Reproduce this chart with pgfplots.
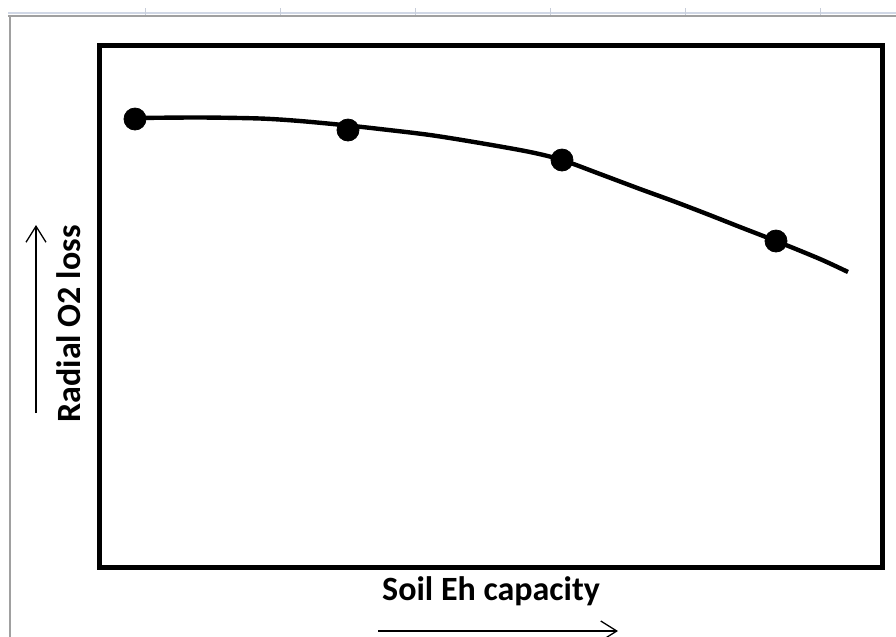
\documentclass[border=0pt]{standalone}
\usepackage{pgfplots}
\pgfplotsset{compat=1.18}
\usepackage{fontspec}
\setmainfont{Carlito}
\usetikzlibrary{arrows.meta}
\begin{document}
\begin{tikzpicture}[x=0.5pt,y=-0.5pt]
\path[use as bounding box] (0,0) rectangle (896,637);
% spreadsheet background lines
\draw[line width=0.6pt, color={rgb,255:red,208;green,215;blue,229}] (8,13) -- (896,13);
\foreach \xx in {145,280,415,550,685,820}
  \draw[line width=0.5pt, color={rgb,255:red,200;green,206;blue,218}] (\xx,8) -- (\xx,16);
\draw[line width=1pt, color={rgb,255:red,160;green,160;blue,160}] (8,16) -- (896,16);
\draw[line width=1pt, color={rgb,255:red,160;green,160;blue,160}] (10,16) -- (10,637);
\begin{axis}[
  at={(491,306.5)}, anchor=center,
  scale only axis, width=391.5pt, height=261pt,
  xmin=99.5, xmax=882.5, ymin=45.5, ymax=567.5, y dir=reverse,
  xtick=\empty, ytick=\empty,
  axis line style={line width=2.5pt, black},
  clip=false,
]
\addplot[black, line width=2.2pt, smooth, tension=0.5] coordinates {
 (135,118) (200,117.5) (260,118.5) (300,121) (348,125.5) (380,129) (430,135)
 (480,143) (530,152) (562,160) (600,174) (640,189) (673,201) (707,214)
 (740,227) (776,241) (820,259) (848,272)
};
\addplot[only marks, mark=*, mark size=5.5pt, black] coordinates {
 (135,119) (348,130) (562,160) (776,241)
};
\end{axis}
\node[font=\fontsize{17}{20}\selectfont\bfseries, anchor=base] at (491,600) {Soil Eh capacity};
\node[font=\fontsize{17}{20}\selectfont\bfseries, anchor=base, rotate=90] at (80,324) {Radial O2 loss};
\draw[line width=0.65pt, -{Straight Barb[length=8pt,width=10pt,line width=0.65pt]}] (378,631) -- (618,631);
\draw[line width=0.65pt, -{Straight Barb[length=8pt,width=10pt,line width=0.65pt]}] (36,413) -- (36,225);
\end{tikzpicture}
\end{document}
